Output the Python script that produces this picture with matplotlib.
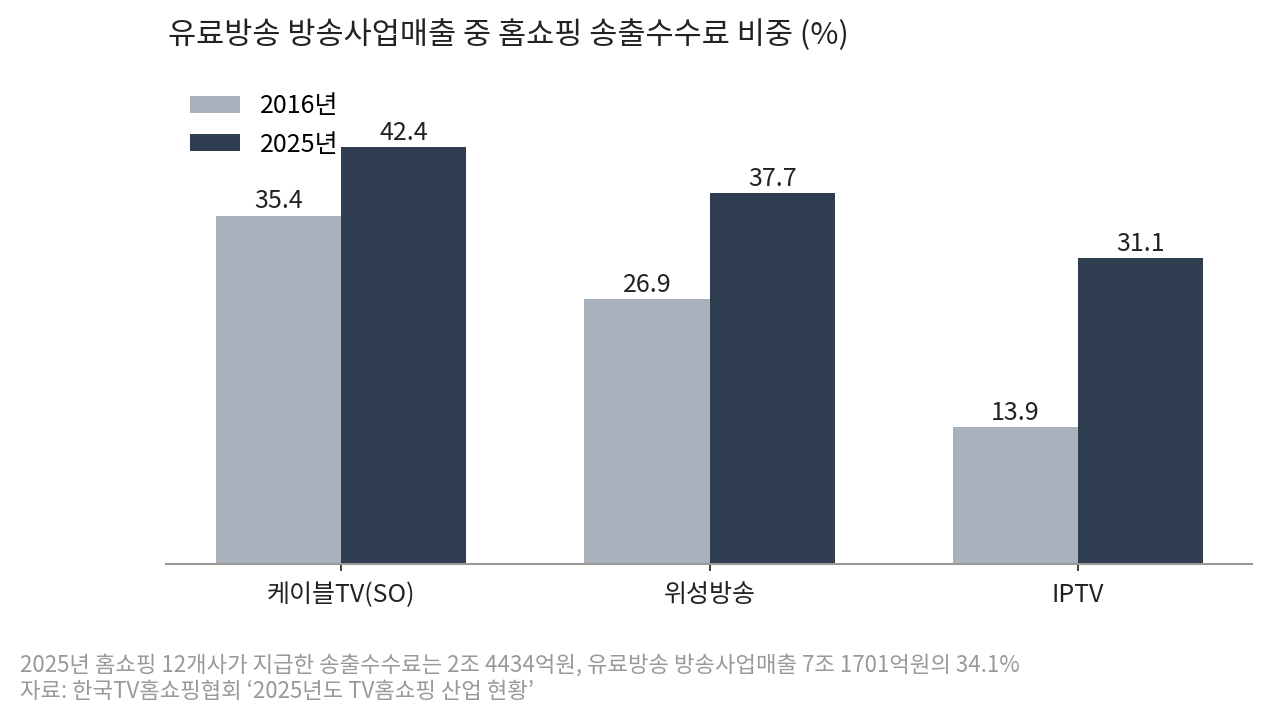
import matplotlib
matplotlib.use('Agg')
import matplotlib.pyplot as plt
import numpy as np

# 데이터
categories = ['케이블TV(SO)', '위성방송', 'IPTV']
values_2016 = [35.4, 26.9, 13.9]
values_2025 = [42.4, 37.7, 31.1]
series_labels = ['2016년', '2025년']

title = '유료방송 방송사업매출 중 홈쇼핑 송출수수료 비중 (%)'
note = '2025년 홈쇼핑 12개사가 지급한 송출수수료는 2조 4434억원, 유료방송 방송사업매출 7조 1701억원의 34.1%'
source = '자료: 한국TV홈쇼핑협회 ‘2025년도 TV홈쇼핑 산업 현황’'

plt.rcParams['font.family'] = ['Noto Sans CJK KR', 'DejaVu Sans']

W, H = 1272, 724
fig = plt.figure(figsize=(W / 100, H / 100), dpi=100)

# 축 위치 (픽셀 기준)
left, right, bottom, top = 166, 1252, 564, 90
ax = fig.add_axes([left / W, 1 - bottom / H, (right - left) / W, (bottom - top) / H])

light = '#a9b2bc'
dark = '#2e3d4f'
bar_width = 0.34
x = np.arange(len(categories))

b1 = ax.bar(x - bar_width / 2, values_2016, width=bar_width, color=light, label=series_labels[0])
b2 = ax.bar(x + bar_width / 2, values_2025, width=bar_width, color=dark, label=series_labels[1])

ax.bar_label(b1, fmt='%.1f', padding=1, fontsize=18, color='#222222')
ax.bar_label(b2, fmt='%.1f', padding=1, fontsize=18, color='#222222')

ax.set_xlim(-0.475, 2.472)
ax.set_ylim(0, (bottom - top) / 9.835)

for s in ['top', 'right', 'left']:
    ax.spines[s].set_visible(False)
ax.spines['bottom'].set_color('#999999')
ax.spines['bottom'].set_linewidth(1.5)
ax.set_yticks([])
ax.set_xticks(x)
ax.set_xticklabels(categories, fontsize=18, color='#222222')
ax.tick_params(axis='x', length=5, width=1.2, color='#222222', pad=8)

ax.legend(loc='upper left', bbox_to_anchor=(190 / W, 1 - 93 / H), bbox_transform=fig.transFigure,
          frameon=False, fontsize=18, handlelength=2.0, handleheight=0.68,
          handletextpad=0.8, labelspacing=0.5, borderpad=0, borderaxespad=0)

fig.text(168 / W, 1 - 35 / H, title, fontsize=22, color='#222222', va='center', ha='left')
fig.text(20 / W, 1 - 665 / H, note, fontsize=16, color='#999999', va='center', ha='left')
fig.text(20 / W, 1 - 691 / H, source, fontsize=16, color='#999999', va='center', ha='left')

fig.savefig('out.png', dpi=100)
